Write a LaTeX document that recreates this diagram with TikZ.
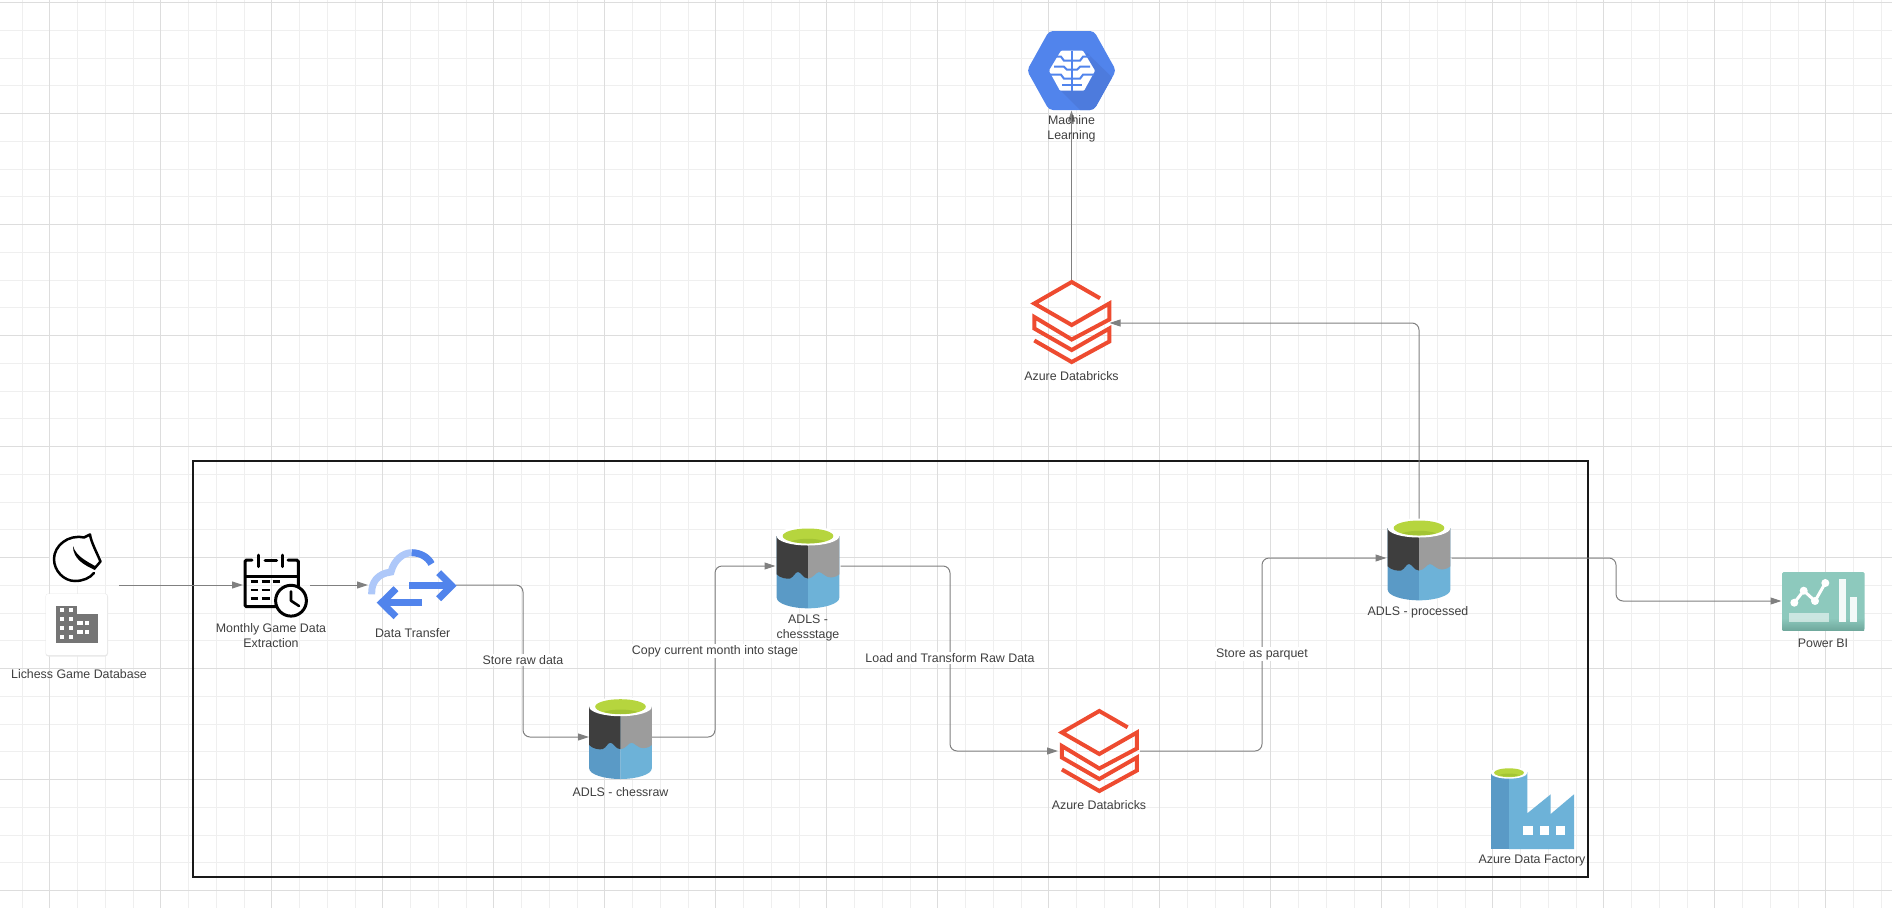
\documentclass[tikz,border=0pt]{standalone}
\usepackage{fontspec}
\setmainfont{Liberation Sans}
\usetikzlibrary{arrows.meta}
\definecolor{gridminor}{HTML}{EFEFEF}
\definecolor{gridmajor}{HTML}{DDDDDD}
\definecolor{conncol}{HTML}{808080}
\definecolor{textcol}{HTML}{3F3F3F}
\definecolor{dbred}{HTML}{EE4B30}
\definecolor{mlblue}{HTML}{5184EC}
\definecolor{mlshade}{HTML}{4D7BDD}
\definecolor{cloudlight}{HTML}{AEC8F9}
\definecolor{adlsdark}{HTML}{3E3E3E}
\definecolor{adlsgrey}{HTML}{9C9C9C}
\definecolor{adlsblueA}{HTML}{5A9AC6}
\definecolor{adlsblueB}{HTML}{6DB2D8}
\definecolor{adlsgreen}{HTML}{B6D53E}
\definecolor{adlsgreenB}{HTML}{A3C434}
\definecolor{bitop}{HTML}{8DC9BD}
\definecolor{bibot}{HTML}{6FA89C}
\definecolor{bldg}{HTML}{757575}
\tikzset{
  anchorbox/.style={inner sep=0pt,outer sep=0pt,draw=none},
  lbl/.style={inner sep=0pt,text=textcol,align=center,font=\fontsize{12.4}{15}\selectfont},
  flowlbl/.style={lbl,fill=white,inner ysep=1.5pt,inner xsep=1pt},
  conn/.style={draw=conncol,line width=1pt,rounded corners=7pt,-{Triangle[length=11pt,width=7pt]}},
  dbline/.style={draw=dbred,line width=4pt,line join=miter,fill=none},
  calline/.style={draw=black,line width=3pt,line cap=round,rounded corners=1.5pt},
  dashline/.style={draw=black,line width=2.6pt},
  brainline/.style={draw=mlblue,line width=2pt},
  bilink/.style={draw=white,line width=3pt},
  dtarrow/.style={draw=mlblue,line width=7pt,line join=miter,fill=none},
}
\newcommand{\adlsicon}[2]{%
  \begin{scope}[shift={(#1,#2)}]
    \fill[adlsblueA] (-31.3,0) -- (-31.3,61.7) .. controls (-31.3,67.5) and (-17,72.3) .. (0,72.3) -- (0,0) -- cycle;
    \fill[adlsblueB] (31.3,0) -- (31.3,61.7) .. controls (31.3,67.5) and (17,72.3) .. (0,72.3) -- (0,0) -- cycle;
    \fill[adlsdark] (-31.3,0) -- (-31.3,38.3) .. controls (-28,42) and (-22,43) .. (-18,42.5) .. controls (-14,41) and (-13,36) .. (-10,36) .. controls (-7,36) and (-5,42.5) .. (0,42.5) -- (0,0) -- cycle;
    \fill[adlsgrey] (0,0) -- (0,42.5) .. controls (5,42.5) and (8,36) .. (11,36) .. controls (14,36) and (18,42) .. (23,41.5) .. controls (27,41) and (30,40) .. (31.3,38.3) -- (31.3,0) -- cycle;
    \fill[white] (0,0) ellipse [x radius=31.3,y radius=9.5];
    \fill[adlsgreen] (0,0) ellipse [x radius=25.3,y radius=7.5];
    \fill[adlsgreenB] (-17,5.2) .. controls (-8,2) and (8,2) .. (17,5.2) .. controls (8,8) and (-8,8) .. (-17,5.2) -- cycle;
  \end{scope}}
\newcommand{\dbicon}[2]{%
  \draw[dbline,shift={(#1,#2)}] (28.3,16.3) -- (0,0) -- (-37.4,21.5) -- (0,43) -- (37.6,21.5) -- (37.6,37.5) -- (0,57.5) -- (-37.4,35) -- (-37.4,46.5) -- (0,68) -- (37.6,46.5) -- (37.6,59.5) -- (0,80) -- (-37.4,58.5);}
\begin{document}
\begin{tikzpicture}[x=1pt,y=-1pt]
\useasboundingbox (0,0) rectangle (1892,908);
\fill[white] (0,0) rectangle (1892,908);
% grid
\foreach \k in {0,...,68}{
  \pgfmathsetmacro{\gx}{22+27.75*\k}
  \draw[gridminor,line width=1pt] (\gx,0) -- (\gx,908);
}
\foreach \k in {0,...,32}{
  \pgfmathsetmacro{\gy}{2.5+27.75*\k}
  \draw[gridminor,line width=1pt] (0,\gy) -- (1892,\gy);
}
\foreach \k in {0,...,16}{
  \pgfmathsetmacro{\gx}{49.5+111*\k}
  \draw[gridmajor,line width=1pt] (\gx,0) -- (\gx,908);
}
\foreach \k in {0,...,8}{
  \pgfmathsetmacro{\gy}{2.5+111*\k}
  \draw[gridmajor,line width=1pt] (0,\gy) -- (1892,\gy);
}
% frame
\node[draw=black!90,line width=1.8pt,inner sep=0pt,minimum width=1395pt,minimum height=416pt] (adfbox) at (890.5,669) {};
% anchors of the icons
\node[anchorbox,minimum width=73pt,minimum height=1pt] (lichess) at (82.5,585) {};
\node[anchorbox,minimum width=67pt,minimum height=50pt] (monthly) at (276.5,585) {};
\node[anchorbox,minimum width=88pt,minimum height=66pt] (transfer) at (412,585) {};
\node[anchorbox,minimum width=63pt,minimum height=76pt] (raw) at (620.5,737) {};
\node[anchorbox,minimum width=65pt,minimum height=76pt] (stage) at (808,566) {};
\node[anchorbox,minimum width=82pt,minimum height=1pt] (dbmid) at (1099,751) {};
\node[anchorbox,minimum width=65pt,minimum height=76pt] (processed) at (1419,558) {};
\node[anchorbox,minimum width=83pt,minimum height=58pt] (powerbi) at (1823,601) {};
\node[anchorbox,minimum width=76pt,minimum height=82pt] (dbtop) at (1071.5,323) {};
\node[anchorbox,minimum width=89pt,minimum height=80pt] (ml) at (1071.5,70.5) {};
% bends
\coordinate (b1) at (523,660);
\coordinate (b2) at (715,651);
\coordinate (b3) at (950,658);
\coordinate (b4) at (1262,654);
\coordinate (b5) at (1616,580);
% connectors
\draw[conn] (lichess.east) -- (monthly.west);
\draw[conn] (monthly.east) -- (transfer.west);
\draw[conn] (transfer.east) -| (b1) |- (raw.west);
\draw[conn] (raw.east) -| (b2) |- (stage.west);
\draw[conn] (stage.east) -| (b3) |- (dbmid.west);
\draw[conn] (dbmid.east) -| (b4) |- (processed.west);
\draw[conn] (processed.east) -| (b5) |- (powerbi.west);
\draw[conn] (processed.north) |- (dbtop.east);
\draw[conn] (dbtop.north) -- (ml.south);
% Lichess horse
\fill[white] (50,533) rectangle (101,585);
\draw[black,line width=2.5pt,line join=round,line cap=round] (94,573) .. controls (90,578) and (83,581) .. (75,581) .. controls (64,581) and (54,571) .. (54,559) .. controls (54,546) and (68,534) .. (84,537.5) -- (90,534.5) .. controls (91,542) and (97,553) .. (100.5,561.5) -- (94.5,568.5);
\fill[black] (95,570) .. controls (84,565) and (73,559) .. (73,546) .. controls (76,556) and (86,561) .. (96,566.5) -- cycle;
% Database card
\fill[black!9,rounded corners=3pt] (45.5,593.5) rectangle (108,656.5);
\fill[white,rounded corners=2pt] (46,594) rectangle (107,655);
\fill[bldg] (77,614) rectangle (98,643);
\fill[bldg] (56,606) rectangle (77,643);
\foreach \wx in {60.3,69}{\foreach \wy in {608,617,626,634.7}{\fill[white] (\wx,\wy) rectangle ++(4,4);}}
\foreach \wy in {621.3,630}{\fill[white] (77,\wy) rectangle (82.5,\wy+4); \fill[white] (85,\wy) rectangle (89,\wy+4);}
% Calendar
\draw[calline] (252,560) -- (245,560) -- (245,606.7) -- (276,606.7);
\draw[calline] (288,560) -- (298.3,560) -- (298.3,586);
\draw[calline] (258.3,555) -- (258.3,566.5);
\draw[calline] (282.7,555) -- (282.7,566.5);
\draw[calline] (265,560) -- (276.7,560);
\draw[dashline] (245,576.7) -- (298.3,576.7);
\draw[dashline] (250.7,581.7) -- (258.3,581.7) (261.7,581.7) -- (270,581.7) (272.5,581.7) -- (280,581.7);
\draw[dashline] (250.7,590) -- (258.3,590) (261.7,590) -- (270,590);
\draw[dashline] (250.7,598.3) -- (258.3,598.3) (261.7,598.3) -- (270,598.3);
\draw[black,line width=3pt,fill=white] (291,600.7) circle [radius=15.4];
\draw[black,line width=2.6pt,line cap=round,line join=round] (291,591.5) -- (291,600.7) -- (299,606);
% Data transfer
\draw[cloudlight,line width=7pt] (371.7,594.3) .. controls (371,582) and (378,573.5) .. (391,572) .. controls (394,560) and (403,552.7) .. (411.7,552.7);
\draw[mlblue,line width=7pt] (411.7,552.7) .. controls (420,552.7) and (428,557) .. (431.5,564);
\draw[dtarrow] (409.3,585.7) -- (449,585.7);
\draw[dtarrow] (438.7,572.7) -- (451.7,585.7) -- (438.7,598.7);
\draw[dtarrow] (422,602.7) -- (384,602.7);
\draw[dtarrow] (396,588.7) -- (381.7,602.7) -- (396,616.7);
% Machine learning hexagon
\begin{scope}
  \clip[rounded corners=4pt] (1049,31) -- (1094,31) -- (1116,70.5) -- (1094,110) -- (1049,110) -- (1027,70.5) -- cycle;
  \fill[mlblue] (1020,25) rectangle (1120,115);
  \fill[mlshade] (1060,90) -- (1082,112) -- (1120,112) -- (1120,85) -- (1087,53) -- cycle;
\end{scope}
\begin{scope}[shift={(1072,70.7)}]
  \fill[white,rounded corners=1pt] (-11,-20) -- (11,-20) -- (23,0) -- (12,20) -- (-12,20) -- (-23,0) -- cycle;
  \draw[brainline] (0,-20) -- (0,20);
  \foreach \s in {-1,1}{
    \draw[brainline] (0,-10) -- (\s*8,-10) -- (\s*11,-14) -- (\s*18,-14);
    \draw[brainline] (\s*18,-4) -- (\s*8,-4) -- (\s*5,-1) -- (0,-1);
    \draw[brainline] (0,8) -- (\s*8,8) -- (\s*11,4) -- (\s*22,4);
    \draw[brainline] (0,14) -- (\s*10,14);
  }
\end{scope}
% Databricks
\dbicon{1071.7}{282}
\dbicon{1099.3}{711}
% ADLS
\adlsicon{620.5}{706.7}
\adlsicon{808}{536}
\adlsicon{1419}{528}
% Data factory
\fill[adlsblueB] (1509,772) -- (1527.3,772) -- (1527.3,813.3) -- (1550.7,794.3) -- (1550.7,814) -- (1574,794.3) -- (1574,849) -- (1509,849) -- cycle;
\fill[adlsblueA] (1490.7,772) rectangle (1509,849);
\foreach \wx in {1523.3,1540,1556}{\fill[white] (\wx,826) rectangle ++(9.3,9);}
\fill[white] (1509,772.7) ellipse [x radius=18.3,y radius=6];
\fill[adlsgreen] (1509,772.7) ellipse [x radius=15,y radius=4.4];
\fill[adlsgreenB] (1499,775) .. controls (1504,773) and (1514,773) .. (1519,775) .. controls (1514,777) and (1504,777) .. (1499,775) -- cycle;
% Power BI
\fill[bitop,rounded corners=1.5pt] (1782,572) rectangle (1864.7,630.3);
\shade[top color=bitop,bottom color=bibot] (1782.5,618) rectangle (1864.2,630.3);
\fill[white,opacity=.55] (1789,613) rectangle (1829,621.7);
\fill[white,opacity=.9] (1839,579) rectangle (1846,621.7);
\fill[white,opacity=.9] (1850,597) rectangle (1857,621.7);
\draw[bilink] (1794.3,602.7) -- (1803.7,590.7) -- (1815,601) -- (1825.3,583);
\foreach \px/\py in {1794.3/602.7,1803.7/590.7,1815/601,1825.3/583}{\fill[white] (\px,\py) circle [radius=4];}
% texts
\node[lbl] (tLichess) at (79,674) {Lichess Game Database};
\node[lbl] (tMonthly) at (271,635.5) {Monthly Game Data\\Extraction};
\node[lbl] (tTransfer) at (412.7,632.7) {Data Transfer};
\node[lbl] (tRaw) at (620.5,792) {ADLS - chessraw};
\node[lbl] (tStage) at (808,628) {ADLS -\\chessstage};
\node[lbl] (tDbMid) at (1099,805) {Azure Databricks};
\node[lbl] (tProcessed) at (1418,612) {ADLS - processed};
\node[lbl] (tPower) at (1823,643) {Power BI};
\node[lbl] (tDbTop) at (1071.5,376) {Azure Databricks};
\node[lbl] (tMl) at (1071.5,128.5) {Machine\\Learning};
\node[lbl] (tAdf) at (1532,861) {Azure Data Factory};
\node[flowlbl] (lRaw) at (b1) {Store raw data};
\node[flowlbl] (lCopy) at (b2) {Copy current month into stage};
\node[flowlbl] (lLoad) at (b3) {Load and Transform Raw Data};
\node[flowlbl] (lParquet) at (b4) {Store as parquet};
\end{tikzpicture}
\end{document}
